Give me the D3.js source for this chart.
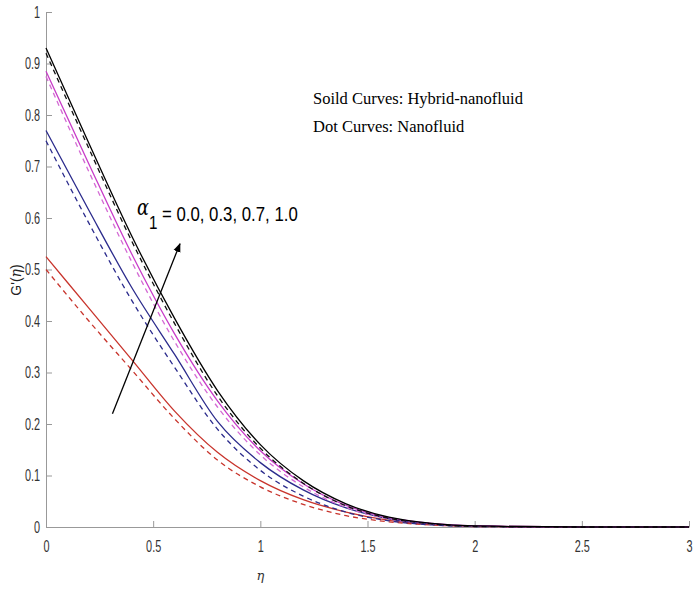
<!DOCTYPE html>
<html lang="en">
<head>
<meta charset="utf-8" />
<title></title>
<script src="https://d3js.org/d3.v7.min.js"></script>
<style>
  body { margin: 0; background: #fff; }
  svg { display: block; }
  .tick text { font-family: "Liberation Sans", Arial, sans-serif; font-size: 16px; fill: #333; }
</style>
</head>
<body>
<svg></svg>
<script>
  let width = 694, height = 590;

  // eta grid and curves
  var eta = [0, 0.2, 0.4, 0.6, 0.8, 1.0, 1.2, 1.4, 1.6, 1.8, 2.0, 2.5, 3.0];

  var blackSolid   = [0.930, 0.745, 0.565, 0.405, 0.265, 0.160, 0.090, 0.045, 0.019, 0.007, 0.002, 0, 0];
  var blackDash    = [0.920, 0.735, 0.555, 0.395, 0.255, 0.153, 0.085, 0.041, 0.017, 0.006, 0.001, 0, 0];
  var magentaSolid = [0.885, 0.705, 0.530, 0.375, 0.245, 0.148, 0.084, 0.042, 0.018, 0.007, 0.002, 0, 0];
  var magentaDash  = [0.875, 0.690, 0.515, 0.360, 0.233, 0.140, 0.078, 0.038, 0.016, 0.006, 0.001, 0, 0];
  var blueSolid    = [0.770, 0.615, 0.465, 0.335, 0.205, 0.125, 0.072, 0.037, 0.016, 0.006, 0.002, 0, 0];
  var blueDash     = [0.750, 0.590, 0.440, 0.310, 0.190, 0.110, 0.060, 0.029, 0.012, 0.004, 0.001, 0, 0];
  var redSolid     = [0.525, 0.425, 0.325, 0.225, 0.145, 0.090, 0.053, 0.029, 0.013, 0.005, 0.002, 0, 0];
  var redDash      = [0.500, 0.400, 0.305, 0.210, 0.130, 0.078, 0.044, 0.022, 0.010, 0.004, 0.001, 0, 0];

  var xTicks = [0, 0.5, 1, 1.5, 2, 2.5, 3];
  var yTicks = [0, 0.1, 0.2, 0.3, 0.4, 0.5, 0.6, 0.7, 0.8, 0.9, 1];

  var series = [
    { values: redDash, color: "#c8342c", dash: "5,4" },
    { values: redSolid, color: "#c8342c", dash: null },
    { values: blueDash, color: "#2b2b8c", dash: "5,4" },
    { values: blueSolid, color: "#2b2b8c", dash: null },
    { values: magentaDash, color: "#d46ad4", dash: "5,4" },
    { values: magentaSolid, color: "#c83cc8", dash: null },
    { values: blackDash, color: "#111", dash: "5,4" },
    { values: blackSolid, color: "#000", dash: null }
  ];

  var narrow = 0.68;

  let svg = d3.select("svg")
    .attr("width", width)
    .attr("height", height);

  var x = d3.scaleLinear().domain([0, 3]).range([46, 689]);
  var y = d3.scaleLinear().domain([0, 1]).range([527, 12]);

  // axes
  svg.append("g")
    .attr("transform", "translate(0," + y(0) + ")")
    .call(d3.axisBottom(x).tickValues(xTicks).tickFormat(d => String(d)).tickSizeInner(-6).tickSizeOuter(0).tickPadding(14))
    .call(g => g.selectAll(".domain, .tick line").attr("stroke", "#999"))
    .call(g => g.selectAll(".tick text").attr("transform", "scale(" + narrow + ",1)"));

  svg.append("g")
    .attr("transform", "translate(" + x(0) + ",0)")
    .call(d3.axisLeft(y).tickValues(yTicks).tickFormat(d => String(d)).tickSizeInner(-6).tickSizeOuter(0).tickPadding(6))
    .call(g => g.selectAll(".domain, .tick line").attr("stroke", "#999"))
    .call(g => g.selectAll(".tick text").attr("x", -6 / narrow).attr("transform", "scale(" + narrow + ",1)"));

  // curves
  var line = d3.line()
    .x((d, i) => x(eta[i]))
    .y(d => y(d))
    .curve(d3.curveMonotoneX);

  svg.append("g")
    .selectAll("path")
    .data(series)
    .enter()
    .append("path")
    .attr("d", d => line(d.values))
    .attr("fill", "none")
    .attr("stroke", d => d.color)
    .attr("stroke-width", 1.3)
    .attr("stroke-dasharray", d => d.dash);

  // arrow
  svg.append("defs").append("marker")
    .attr("id", "head")
    .attr("viewBox", "0 0 10 10")
    .attr("refX", 9).attr("refY", 5)
    .attr("markerWidth", 7).attr("markerHeight", 7)
    .attr("orient", "auto")
    .append("path").attr("d", "M0,1 L10,5 L0,9 z").attr("fill", "#000");

  svg.append("line")
    .attr("x1", x(0.31)).attr("y1", y(0.22))
    .attr("x2", x(0.625)).attr("y2", y(0.55))
    .attr("stroke", "#000").attr("stroke-width", 1.3)
    .attr("marker-end", "url(#head)");

  // annotation
  var ann = svg.append("text")
    .attr("transform", "translate(137,221) scale(0.8,1)")
    .style("font-family", "'Liberation Sans', Arial, sans-serif")
    .style("font-size", "21px")
    .attr("fill", "#000");
  ann.append("tspan").text("α").attr("dy", -6).style("font-family", "'DejaVu Serif', serif").style("font-style", "italic").style("font-size", "22px");
  ann.append("tspan").text("1").attr("dy", 14).style("font-size", "19px");
  ann.append("tspan").text(" = 0.0, 0.3, 0.7, 1.0").attr("dy", -8);

  svg.append("text")
    .attr("x", 313).attr("y", 104)
    .style("font-family", "'Liberation Serif', serif")
    .style("font-size", "16.5px")
    .text("Soild Curves: Hybrid-nanofluid");

  svg.append("text")
    .attr("x", 313).attr("y", 132)
    .style("font-family", "'Liberation Serif', serif")
    .style("font-size", "16.5px")
    .text("Dot Curves: Nanofluid");

  // axis labels
  var yl = svg.append("text")
    .attr("transform", "translate(21,280) rotate(-90)")
    .attr("text-anchor", "middle")
    .style("font-family", "'Liberation Sans', sans-serif")
    .style("font-size", "14px")
    .attr("fill", "#222");
  yl.append("tspan").text("G'(");
  yl.append("tspan").text("η").style("font-family", "'DejaVu Serif', serif").style("font-style", "italic");
  yl.append("tspan").text(")");

  svg.append("text")
    .attr("x", x(1)).attr("y", 580)
    .attr("text-anchor", "middle")
    .style("font-family", "'DejaVu Serif', serif")
    .style("font-style", "italic")
    .style("font-size", "13px")
    .attr("fill", "#333")
    .text("η");
</script>
</body>
</html>
